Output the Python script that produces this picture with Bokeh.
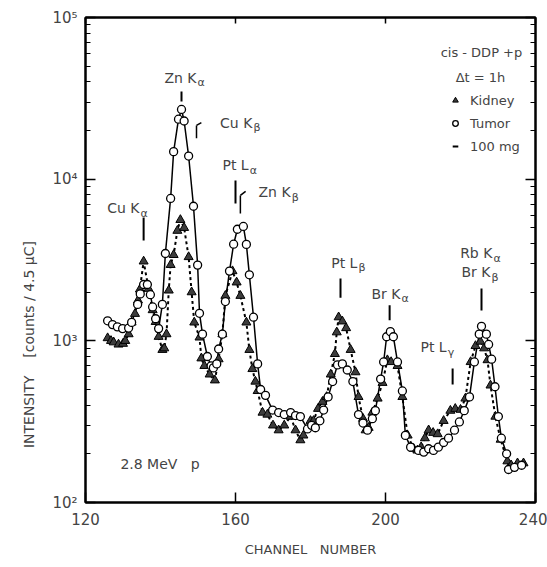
import math
from bokeh.plotting import figure
from bokeh.models import (Range1d, LogAxis, LinearAxis, FixedTicker, Label, Legend,
                          LegendItem, ColumnDataSource)
from bokeh.embed import file_html
from bokeh.resources import INLINE

# ---------------- data ----------------
tumor_ch = [125.9, 127.2, 128.5, 129.9, 131.5, 132.3, 133.9, 134.6, 135.5, 136.5, 137.3, 137.9,
            138.7, 139.5, 140.5, 141.3, 142.7, 143.5, 144.8, 145.6, 146.3, 147.5, 148.8, 149.9,
            150.4, 151.2, 152.5, 153.5, 154.1, 155.0, 155.5, 156.5, 157.3, 158.4, 159.5, 160.5,
            162.1, 162.9, 163.7, 164.8, 165.9, 166.7, 168.0, 169.9, 171.5, 173.0, 174.7, 176.0,
            177.3, 179.2, 180.3, 181.3, 182.5, 183.5, 184.7, 185.9, 187.2, 188.5, 189.8, 191.3,
            192.8, 194.0, 195.2, 196.5, 197.3, 198.7, 199.5, 200.3, 201.3, 202.1, 203.2, 204.5,
            205.3, 206.7, 208.8, 210.2, 211.5, 212.8, 214.1, 215.5, 216.8, 218.4, 219.7, 221.0,
            222.4, 223.7, 225.0, 225.6, 226.9, 227.5, 228.3, 229.2, 230.1, 230.9, 232.3, 232.8,
            234.4, 236.3]
tumor_val = [1330, 1260, 1220, 1190, 1200, 1300, 1680, 1950, 2230, 2230, 1930, 1620,
             1370, 1190, 1680, 3470, 7600, 14800, 23500, 27000, 22900, 13900, 6800, 2940,
             1480, 1100, 800, 700, 680, 720, 890, 1100, 1750, 2700, 3960, 4900,
             5100, 3950, 2560, 1400, 720, 500, 460, 373, 360, 350, 360, 345,
             340, 285, 300, 290, 320, 373, 450, 560, 710, 720, 660, 560,
             350, 310, 280, 330, 370, 580, 740, 1060, 1140, 1060, 740, 490,
             260, 220, 210, 205, 215, 210, 220, 235, 250, 280, 315, 370,
             450, 740, 1100, 1230, 1100, 950, 770, 520, 340, 250, 200, 160,
             165, 170]

kidney_ch = [125.9, 126.8, 127.5, 128.8, 130.0, 130.6, 131.5, 132.3, 133.2, 134.0, 134.5, 135.5,
             136.8, 137.9, 138.7, 139.5, 140.5, 141.0, 141.6, 142.2, 142.7, 143.5, 144.5, 145.3,
             146.3, 147.5, 148.3, 149.0, 150.4, 150.9, 151.7, 153.1, 154.5, 155.5, 156.5, 157.3,
             159.2, 160.3, 161.3, 162.9, 163.7, 164.5, 165.3, 165.9, 167.2, 168.5, 170.0, 171.5,
             173.0, 174.7, 176.0, 177.3, 178.1, 180.0, 180.8, 182.0, 183.2, 184.3, 185.4, 186.5,
             187.0, 187.5, 188.5, 189.5, 190.7, 192.0, 192.8, 194.0, 194.7, 195.5, 196.5, 197.9,
             199.2, 200.5, 201.5, 203.2, 204.5, 205.9, 207.5, 208.5, 209.5, 210.5, 211.5, 212.7,
             213.9, 215.5, 217.3, 218.6, 220.0, 221.3, 222.7, 224.0, 225.3, 226.3, 227.2, 228.0,
             229.3, 230.7, 232.5, 233.5, 235.2, 236.8]
kidney_val = [1040, 1000, 980, 950, 960, 1000, 1100, 1300, 1470, 1780, 2080, 3100,
              2100, 1550, 1310, 1060, 880, 900, 1100, 2050, 2950, 3400, 4800, 5600,
              5000, 3300, 2000, 1300, 1050, 780, 700, 620, 570, 770, 1100, 1900,
              2700, 2300, 1900, 1300, 880, 670, 560, 490, 360, 350, 300, 280,
              300, 340, 280, 243, 260, 320, 320, 380, 420, 450, 620, 830,
              1130, 1400, 1320, 1200, 880, 640, 450, 330, 280, 290, 360, 440,
              550, 760, 740, 700, 450, 260, 215, 210, 220, 250, 280, 270,
              265, 320, 370, 380, 375, 440, 740, 930, 990, 900, 760, 530,
              340, 245, 180, 170, 175, 175]

x_ticks = [120, 160, 200, 240]
y_ticks = [100, 1000, 10000, 100000]
y_tick_labels = ["10\u00b2", "10\u00b3", "10\u2074", "10\u2075"]

# peak annotations: (main text, subscript, x of text end, y of text, x of bar, bar y0, bar y1)
peaks = [
    ("Cu K", "\u03b1", 134.4, 6590, 135.5, 5800, 4180),
    ("Zn K", "\u03b1", 149.6, 42500, 145.6, 34800, 30200),
    ("Cu K", "\u03b2", 164.5, 22400, None, None, None),
    ("Pt L", "\u03b1", 163.5, 12200, 160.0, 9800, 7080),
    ("Zn K", "\u03b2", 174.7, 8280, None, None, None),
    ("Pt L", "\u03b2", 192.5, 3050, 188.0, 2430, 1850),
    ("Br K", "\u03b1", 204.0, 1960, 201.1, 1660, 1340),
    ("Pt L", "\u03b3", 216.3, 910, 217.9, 675, 537),
    ("Rb K", "\u03b1", 228.5, 3470, 225.6, 2110, 1540),
    ("Br K", "\u03b2", 228.0, 2650, None, None, None),
]

FONT = "DejaVu Sans"
NB = "\u00a0"

p = figure(width=547, height=567, y_axis_type="log",
           x_range=Range1d(120, 240), y_range=Range1d(100, 100000),
           output_backend="svg", toolbar_location=None,
           min_border_left=85, min_border_right=12, min_border_top=17, min_border_bottom=65,
           x_axis_location=None, y_axis_location=None)
p.grid.visible = False
p.outline_line_color = "black"
p.outline_line_width = 2
p.background_fill_color = "white"
p.border_fill_color = "white"

minor = [m * d for d in [100, 1000, 10000] for m in range(2, 10)]
yticker = FixedTicker(ticks=y_ticks, minor_ticks=minor)
xticker = FixedTicker(ticks=x_ticks, minor_ticks=[])

# y title: trailing no-break spaces shift the visible words toward the bottom, as in the original
ytitle = "INTENSITY" + NB * 4 + "[counts / 4.5 \u00b5C]" + NB * 38

yax = LogAxis(ticker=yticker, major_tick_in=10, major_tick_out=0, minor_tick_in=5, minor_tick_out=0,
              axis_line_width=2, major_tick_line_width=1.5, minor_tick_line_width=1.2,
              major_label_text_font=FONT, major_label_text_font_size="15px",
              major_label_standoff=8,
              major_label_overrides={float(t): s for t, s in zip(y_ticks, y_tick_labels)},
              axis_label=ytitle, axis_label_text_font=FONT,
              axis_label_text_font_style="normal", axis_label_text_font_size="14px",
              axis_label_standoff=12)
p.add_layout(yax, "left")

yax_r = LogAxis(ticker=yticker, major_tick_in=10, major_tick_out=0, minor_tick_in=5, minor_tick_out=0,
                axis_line_width=2, major_tick_line_width=1.5, minor_tick_line_width=1.2,
                major_label_standoff=0,
                major_label_overrides={float(t): "" for t in y_ticks})
p.add_layout(yax_r, "right")

xax = LinearAxis(ticker=xticker, major_tick_in=10, major_tick_out=0, minor_tick_in=0, minor_tick_out=0,
                 axis_line_width=2, major_tick_line_width=1.5,
                 major_label_text_font=FONT, major_label_text_font_size="15px",
                 major_label_standoff=10,
                 axis_label="CHANNEL" + NB * 3 + "NUMBER", axis_label_text_font=FONT,
                 axis_label_text_font_style="normal", axis_label_text_font_size="13px",
                 axis_label_standoff=14)
p.add_layout(xax, "below")

xax_t = LinearAxis(ticker=xticker, major_tick_in=6, major_tick_out=0, minor_tick_in=0, minor_tick_out=0,
                   axis_line_width=2, major_tick_line_width=1.5,
                   major_label_standoff=0,
                   major_label_overrides={float(t): "" for t in x_ticks})
p.add_layout(xax_t, "above")

# ---------------- series ----------------
ksrc = ColumnDataSource(dict(x=kidney_ch, y=kidney_val))
tsrc = ColumnDataSource(dict(x=tumor_ch, y=tumor_val))

p.line("x", "y", source=ksrc, line_color="black", line_width=2, line_dash="3 3")
p.line("x", "y", source=tsrc, line_color="black", line_width=1.5)
kr = p.scatter("x", "y", source=ksrc, marker="triangle", size=9, fill_color="#3c3c3c",
               line_color="black", line_width=1)
tr = p.scatter("x", "y", source=tsrc, marker="circle", size=8, fill_color="white",
               line_color="black", line_width=1.3)

# legend entries (hidden proxy renderers, drawn only in the legend)
lk = p.scatter("x", "y", source=ksrc, marker="triangle", size=7,
               fill_color="#3c3c3c", line_color="black", visible=False)
lt = p.scatter("x", "y", source=tsrc, marker="circle", size=6,
               fill_color="white", line_color="black", line_width=1.3, visible=False)
ld = p.scatter("x", "y", source=tsrc, marker="dash", size=7,
               line_color="black", line_width=2, visible=False)
leg = Legend(items=[LegendItem(label="Kidney", renderers=[lk]),
                    LegendItem(label="Tumor", renderers=[lt]),
                    LegendItem(label="100 mg", renderers=[ld])],
             location=(363, 346), orientation="vertical",
             glyph_width=14, glyph_height=20, label_height=20, spacing=3,
             label_standoff=8, padding=0, margin=0,
             border_line_color=None, background_fill_alpha=0,
             inactive_fill_alpha=0,
             label_text_font=FONT, label_text_font_size="13px")
p.add_layout(leg, "center")

p.add_layout(Label(x=214.7, y=60700, text="cis - DDP +p", text_font=FONT,
                   text_font_size="13px", text_baseline="middle", text_align="left"))
p.add_layout(Label(x=218.7, y=42500, text="\u0394t = 1h", text_font=FONT,
                   text_font_size="13px", text_baseline="middle", text_align="left"))
p.add_layout(Label(x=129.3, y=174, text="2.8 MeV" + NB * 3 + "p", text_font=FONT,
                   text_font_size="14px", text_baseline="middle", text_align="left"))

# peak labels
for main, sub, xt, yt, xb, yb0, yb1 in peaks:
    p.add_layout(Label(x=xt, y=yt, text=main, text_font=FONT, text_font_size="14px",
                       text_align="right", text_baseline="middle"))
    p.add_layout(Label(x=xt, y=yt, y_offset=-5, x_offset=1, text=sub, text_font=FONT,
                       text_font_size="11px", text_align="left", text_baseline="middle"))
    if xb is not None:
        p.segment(x0=[xb], y0=[yb0], x1=[xb], y1=[yb1], line_color="black", line_width=2)

# small hooks (Cu Kβ and Zn Kβ pointers)
p.segment(x0=[149.6, 149.6], y0=[21500, 21500], x1=[149.6, 150.9], y1=[17900, 22400],
          line_color="black", line_width=1.5)
p.segment(x0=[161.3, 161.3], y0=[7930, 7930], x1=[161.3, 162.7], y1=[6140, 8400],
          line_color="black", line_width=1.5)

open("out.html", "w").write(file_html(p, INLINE))
